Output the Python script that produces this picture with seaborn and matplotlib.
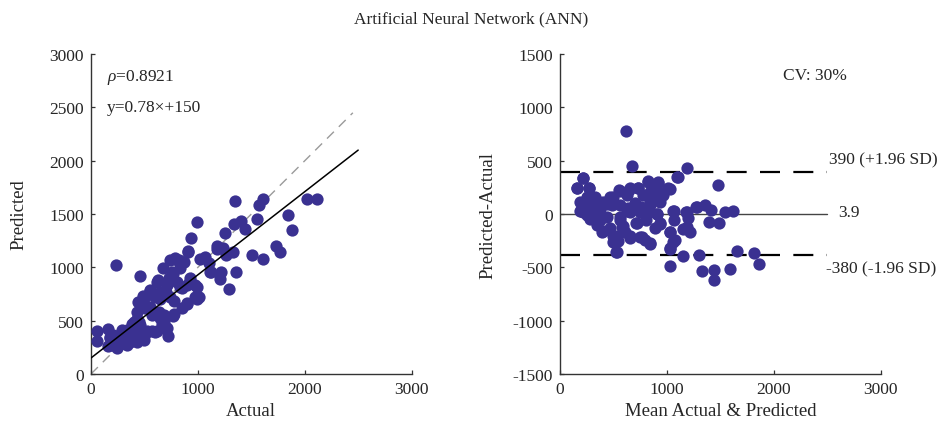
import numpy as np
import pandas as pd
import matplotlib
matplotlib.use("Agg")
import matplotlib.pyplot as plt
import seaborn as sns

# ---------------- data ----------------
actual = [60, 60, 163, 234, 458, 1348, 1611, 1574, 1549, 2022, 2116, 1846, 1878,
          1727, 1771, 1502, 1611, 990, 940, 912, 1335, 1404, 1445, 1257, 1179,
          1235, 1263, 1329, 1066, 1100, 1125, 1213, 1210, 1357, 1291,
          674, 624, 555, 508, 455, 705, 774, 774, 718, 853, 900, 972, 1009, 972,
          900, 931, 743, 790, 821, 868, 837, 759, 727, 806, 853, 430, 445, 398,
          567, 680, 649, 618, 571, 524, 461, 492, 430, 367, 304, 241, 194, 163,
          273, 288, 335, 210, 382, 179, 226, 335, 414, 461, 508, 602, 649, 712,
          633, 680, 696, 910, 785, 832, 770, 614, 552, 489, 552, 645, 739, 832,
          926, 988, 895, 988, 770, 661, 708, 598, 505, 442, 427, 380, 302, 240,
          271, 334, 396, 458, 178, 1019, 1113, 1175]
predicted = [405, 312, 420, 1019, 922, 1623, 1639, 1589, 1458, 1645, 1645, 1489, 1346,
             1202, 1146, 1115, 1075, 1424, 1280, 1156, 1405, 1436, 1358, 1321, 1202,
             1184, 1112, 1146, 1097, 1037, 953, 960, 888, 960, 798,
             991, 882, 788, 726, 679, 773, 685, 561, 358, 623, 664, 726, 726, 835,
             835, 903, 1069, 1090, 1069, 1053, 991, 960, 897, 866, 804, 586, 492, 492,
             555, 555, 523, 399, 399, 399, 368, 321, 299, 299, 305, 243, 274, 259,
             336, 414, 414, 368, 414, 336, 290, 274, 352, 461, 617, 726, 773, 835,
             586, 492, 430, 1141, 1078, 1031, 937, 859, 781, 734, 625, 703, 719, 812,
             875, 812, 656, 703, 547, 469, 434, 391, 375, 672, 516, 469, 406, 359,
             281, 312, 344, 328, 344, 1078, 953, 1172]

ba_mean = [615, 677, 1189, 211, 161, 273, 1093, 1475, 823, 916, 870, 1009, 839, 932,
           553, 646, 730, 466, 404, 335, 248, 186, 202, 217, 280, 373, 481, 559, 637,
           699, 761, 839, 932, 658, 745, 807, 907, 1062, 1174, 1267, 1360, 1413, 1547,
           1615, 1196, 1062, 1391, 1484, 714, 559, 373, 295, 248, 342, 388, 466, 575,
           606, 497, 543, 522, 652, 745, 792, 845, 885, 932, 807, 1025, 1071, 1025,
           1149, 1211, 1149, 1298, 1025, 1329, 1444, 1435, 1593, 1655, 1817, 1863,
           326, 435, 621, 776, 901, 963,
           218, 156, 274, 218, 187, 296, 343, 280, 343, 405, 436, 498, 561, 654, 732,
           826, 919, 1028, 857, 935, 842, 717, 624, 561, 592, 717, 654, 530, 498, 530,
           764, 842, 904, 810, 935, 1028, 1060, 1028, 1060, 1184, 1184, 1278, 1106,
           436, 374, 249]
ba_diff = [782, 452, 433, 340, 240, 240, 346, 277, 308, 296, 255, 240, 209, 202,
           224, 224, 246, 162, 115, 131, 146, 115, 53, 22, 53, 69, 84, 84, 53,
           100, 69, 84, 115, 22, 22, -9, -3, 31, 16, 69, 84, 37, 16,
           28, -34, -56, -78, -81, -81, -56, -56, -40, -9, -103, -165, -134, -118,
           -165, -202, -255, -352, -221, -212, -243, -283, -134, -87, -56, -165, -246, -321,
           -140, -165, -389, -383, -486, -533, -523, -614, -517, -346, -361, -464,
           162, 115, 178, 178, 146, 178,
           337, 244, 244, 78, 31, 125, 0, -47, -78, -156, 94, 156, 219, 244, 244,
           297, 297, 234, 203, 156, 109, 78, 31, -31, -109, -87, -203, -203, -266, -359,
           -219, -275, 0, 0, -94, -172, -266, -328, 31, 16, -125, 63, 344,
           -31, 47, 156]

slope, intercept = 0.78, 150
upper, mean_d, lower = 390, 3.9, -380
fit_x = [0, 2500]
ident_x = [0, 2450]

title = "Artificial Neural Network (ANN)"
rho_text = "0.8921"
cv_text = "CV: 30%"

# ---------------- styling ----------------
sns.set_theme(style="white")
plt.rcParams['font.family'] = ['Liberation Serif', 'DejaVu Serif']
plt.rcParams['mathtext.fontset'] = 'custom'
plt.rcParams['mathtext.it'] = 'Liberation Serif:italic'
plt.rcParams['mathtext.rm'] = 'Liberation Serif'
plt.rcParams['axes.unicode_minus'] = False

dot = '#3A3191'
spine_c = '#333333'
tfs = 12.5
lfs = 13.5
afs = 12.5

fig = plt.figure(figsize=(9.43, 4.31), dpi=100)
ax1 = fig.add_axes([0.0965, 0.130, 0.340, 0.742])
ax2 = fig.add_axes([0.594, 0.130, 0.340, 0.742])

df1 = pd.DataFrame({"Actual": actual, "Predicted": predicted})
df2 = pd.DataFrame({"mean": ba_mean, "diff": ba_diff})

sns.scatterplot(data=df1, x="Actual", y="Predicted", ax=ax1, color=dot,
                s=78, linewidth=0, alpha=1, zorder=3)
sns.lineplot(x=ident_x, y=ident_x, ax=ax1, color='#9a9a9a', lw=1.0,
             dashes=False, zorder=2).lines[-1].set_dashes([7, 5])
fx = np.array(fit_x)
ax1.plot(fx, slope * fx + intercept, color='black', lw=1.1, zorder=4)

ax1.set_xlim(0, 3000)
ax1.set_ylim(0, 3000)
ax1.set_xticks([0, 1000, 2000, 3000])
ax1.set_yticks(np.arange(0, 3001, 500))
ax1.set_xlabel("Actual", fontsize=lfs, labelpad=4)
ax1.set_ylabel("Predicted", fontsize=lfs, labelpad=16)
ax1.text(0.05, 0.96, r"$\rho$=" + rho_text, transform=ax1.transAxes,
         fontsize=afs, va='top', ha='left')
ax1.text(0.05, 0.86, "y=%.2f\u00d7+%d" % (slope, intercept), transform=ax1.transAxes,
         fontsize=afs, va='top', ha='left')

sns.scatterplot(data=df2, x="mean", y="diff", ax=ax2, color=dot,
                s=78, linewidth=0, alpha=1, zorder=3)
ax2.plot(fit_x, [upper, upper], color='black', lw=1.6, dashes=[9, 6], zorder=2)
ax2.plot(fit_x, [lower, lower], color='black', lw=1.6, dashes=[9, 6], zorder=2)
ax2.plot(fit_x, [mean_d, mean_d], color='#444444', lw=1.0, zorder=2)
ax2.set_xlim(0, 3000)
ax2.set_ylim(-1500, 1500)
ax2.set_xticks([0, 1000, 2000, 3000])
ax2.set_yticks(np.arange(-1500, 1501, 500))
ax2.set_xlabel("Mean Actual & Predicted", fontsize=lfs, labelpad=4)
ax2.set_ylabel("Predicted-Actual", fontsize=lfs, labelpad=12)
ax2.text(2500 + 20, upper + 120, "%d (+1.96 SD)" % upper, fontsize=afs, va='center', ha='left')
ax2.text(2500 + 100, mean_d + 20, "%.1f" % mean_d, fontsize=afs, va='center', ha='left')
ax2.text(2500 - 10, lower - 130, "%d (-1.96 SD)" % lower, fontsize=afs, va='center', ha='left')
ax2.text(0.695, 0.96, cv_text, transform=ax2.transAxes, fontsize=afs, va='top', ha='left')

for ax in (ax1, ax2):
    sns.despine(ax=ax)
    for s in ('left', 'bottom'):
        ax.spines[s].set_color(spine_c)
        ax.spines[s].set_linewidth(1.0)
    ax.tick_params(direction='in', length=3, width=0.9, color=spine_c,
                   labelsize=tfs, pad=5, left=True, bottom=True)
    ax.grid(False)

fig.text(0.5, 0.955, title, ha='center', va='center', fontsize=12.5)

fig.savefig("out.png", dpi=100)
